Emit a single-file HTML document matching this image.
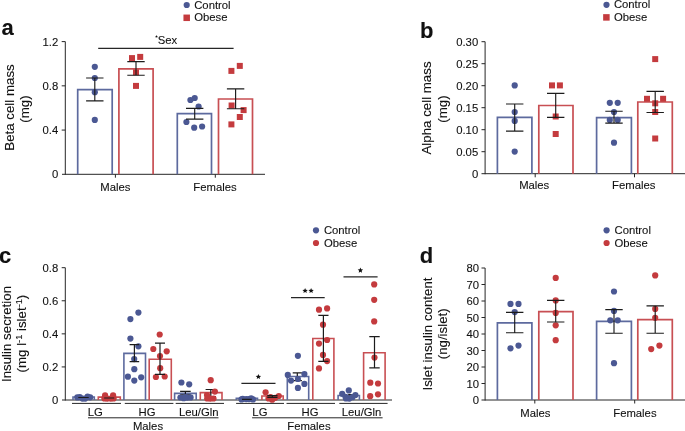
<!DOCTYPE html>
<html><head><meta charset="utf-8"><style>
html,body{margin:0;padding:0;background:#fff;}
svg{display:block;filter:blur(0.3px);}
text{font-family:"Liberation Sans", sans-serif;fill:#111;stroke:#111;stroke-width:0.1px;}
</style></head><body>
<svg width="685" height="431" viewBox="0 0 685 431">
<rect width="685" height="431" fill="#fff"/>
<text x="1.5" y="35.3" font-size="22" text-anchor="start" font-weight="bold" >a</text>
<line x1="65.3" y1="41.6" x2="65.3" y2="174.8" stroke="#262626" stroke-width="1.0"/>
<line x1="61.699999999999996" y1="41.599999999999994" x2="65.3" y2="41.599999999999994" stroke="#262626" stroke-width="1.0"/>
<text x="58.2" y="45.599999999999994" font-size="11.3" text-anchor="end" font-weight="normal" >1.2</text>
<line x1="61.699999999999996" y1="85.83333333333331" x2="65.3" y2="85.83333333333331" stroke="#262626" stroke-width="1.0"/>
<text x="58.2" y="89.83333333333331" font-size="11.3" text-anchor="end" font-weight="normal" >0.8</text>
<line x1="61.699999999999996" y1="130.06666666666666" x2="65.3" y2="130.06666666666666" stroke="#262626" stroke-width="1.0"/>
<text x="58.2" y="134.06666666666666" font-size="11.3" text-anchor="end" font-weight="normal" >0.4</text>
<text x="58.2" y="178.3" font-size="11.3" text-anchor="end" font-weight="normal" >0</text>
<line x1="62" y1="174.3" x2="265" y2="174.3" stroke="#262626" stroke-width="1.0"/>
<line x1="115.4" y1="174.3" x2="115.4" y2="177.7" stroke="#262626" stroke-width="1.0"/>
<line x1="215.3" y1="174.3" x2="215.3" y2="177.7" stroke="#262626" stroke-width="1.0"/>
<text transform="translate(13.7,107.5) rotate(-90)" x="0" y="0" font-size="13.3" text-anchor="middle">Beta cell mass</text>
<text transform="translate(29.3,109.0) rotate(-90)" x="0" y="0" font-size="13.3" text-anchor="middle">(mg)</text>
<text x="115.4" y="190.9" font-size="11.3" text-anchor="middle" font-weight="normal" >Males</text>
<text x="215.0" y="190.5" font-size="11.3" text-anchor="middle" font-weight="normal" >Females</text>
<path d="M77.7,174.3 V89.6 H112.2 V174.3" fill="none" stroke="#5d6a9e" stroke-width="1.7"/>
<path d="M118.9,174.3 V68.8 H153.1 V174.3" fill="none" stroke="#c84f53" stroke-width="1.7"/>
<path d="M177.3,174.3 V113.6 H211.5 V174.3" fill="none" stroke="#5d6a9e" stroke-width="1.7"/>
<path d="M218.5,174.3 V99.0 H252.5 V174.3" fill="none" stroke="#c84f53" stroke-width="1.7"/>
<circle cx="94.8" cy="66.8" r="3.1" fill="#4b5893"/>
<circle cx="94.8" cy="78" r="3.1" fill="#4b5893"/>
<circle cx="94.8" cy="92.2" r="3.1" fill="#4b5893"/>
<circle cx="94.8" cy="119.9" r="3.1" fill="#4b5893"/>
<rect x="129.0" y="55.1" width="6.0" height="6.0" fill="#c43b3e"/>
<rect x="137.2" y="53.9" width="6.0" height="6.0" fill="#c43b3e"/>
<rect x="133.0" y="69.3" width="6.0" height="6.0" fill="#c43b3e"/>
<rect x="133.0" y="82.9" width="6.0" height="6.0" fill="#c43b3e"/>
<circle cx="190.4" cy="100" r="3.1" fill="#4b5893"/>
<circle cx="194.7" cy="98" r="3.1" fill="#4b5893"/>
<circle cx="198.6" cy="106.5" r="3.1" fill="#4b5893"/>
<circle cx="186.4" cy="122" r="3.1" fill="#4b5893"/>
<circle cx="194.2" cy="127.7" r="3.1" fill="#4b5893"/>
<circle cx="202.1" cy="126.5" r="3.1" fill="#4b5893"/>
<rect x="228.4" y="67.9" width="6.0" height="6.0" fill="#c43b3e"/>
<rect x="236.8" y="62.900000000000006" width="6.0" height="6.0" fill="#c43b3e"/>
<rect x="228.6" y="102.5" width="6.0" height="6.0" fill="#c43b3e"/>
<rect x="240.6" y="107.1" width="6.0" height="6.0" fill="#c43b3e"/>
<rect x="236.8" y="114.0" width="6.0" height="6.0" fill="#c43b3e"/>
<rect x="228.4" y="121.4" width="6.0" height="6.0" fill="#c43b3e"/>
<path d="M86.1,78 H103.5 M94.8,78 V100.8 M86.1,100.8 H103.5" fill="none" stroke="#1c1c1c" stroke-width="1.15"/>
<path d="M127.3,61.6 H144.7 M136,61.6 V75.2 M127.3,75.2 H144.7" fill="none" stroke="#1c1c1c" stroke-width="1.15"/>
<path d="M186.0,108.3 H203.39999999999998 M194.7,108.3 V119.1 M186.0,119.1 H203.39999999999998" fill="none" stroke="#1c1c1c" stroke-width="1.15"/>
<path d="M226.9,88.8 H244.29999999999998 M235.6,88.8 V108.7 M226.9,108.7 H244.29999999999998" fill="none" stroke="#1c1c1c" stroke-width="1.15"/>
<line x1="98.2" y1="48.3" x2="233.6" y2="48.3" stroke="#262626" stroke-width="1.2"/>
<polygon points="156.50,35.10 156.91,36.03 157.93,36.14 157.17,36.82 157.38,37.81 156.50,37.30 155.62,37.81 155.83,36.82 155.07,36.14 156.09,36.03" fill="#111"/>
<text x="157.7" y="44.3" font-size="11.3" text-anchor="start" font-weight="normal" >Sex</text>
<circle cx="186.7" cy="5.0" r="3.1" fill="#4b5893"/>
<text x="194.2" y="8.6" font-size="11.3" text-anchor="start" font-weight="normal" >Control</text>
<rect x="183.45" y="14.55" width="6.5" height="6.5" fill="#c43b3e"/>
<text x="194.2" y="21.2" font-size="11.3" text-anchor="start" font-weight="normal" >Obese</text>
<text x="420.0" y="37.6" font-size="22" text-anchor="start" font-weight="bold" >b</text>
<line x1="485.1" y1="41.7" x2="485.1" y2="174.2" stroke="#262626" stroke-width="1.0"/>
<line x1="481.5" y1="41.69999999999999" x2="485.1" y2="41.69999999999999" stroke="#262626" stroke-width="1.0"/>
<text x="478.2" y="45.69999999999999" font-size="11.3" text-anchor="end" font-weight="normal" >0.30</text>
<line x1="481.5" y1="63.69999999999999" x2="485.1" y2="63.69999999999999" stroke="#262626" stroke-width="1.0"/>
<text x="478.2" y="67.69999999999999" font-size="11.3" text-anchor="end" font-weight="normal" >0.25</text>
<line x1="481.5" y1="85.69999999999997" x2="485.1" y2="85.69999999999997" stroke="#262626" stroke-width="1.0"/>
<text x="478.2" y="89.69999999999997" font-size="11.3" text-anchor="end" font-weight="normal" >0.20</text>
<line x1="481.5" y1="107.69999999999999" x2="485.1" y2="107.69999999999999" stroke="#262626" stroke-width="1.0"/>
<text x="478.2" y="111.69999999999999" font-size="11.3" text-anchor="end" font-weight="normal" >0.15</text>
<line x1="481.5" y1="129.7" x2="485.1" y2="129.7" stroke="#262626" stroke-width="1.0"/>
<text x="478.2" y="133.7" font-size="11.3" text-anchor="end" font-weight="normal" >0.10</text>
<line x1="481.5" y1="151.7" x2="485.1" y2="151.7" stroke="#262626" stroke-width="1.0"/>
<text x="478.2" y="155.7" font-size="11.3" text-anchor="end" font-weight="normal" >0.05</text>
<text x="478.2" y="177.7" font-size="11.3" text-anchor="end" font-weight="normal" >0</text>
<line x1="481.5" y1="173.7" x2="685" y2="173.7" stroke="#262626" stroke-width="1.0"/>
<line x1="535.2" y1="173.7" x2="535.2" y2="177.3" stroke="#262626" stroke-width="1.0"/>
<line x1="634.5" y1="173.7" x2="634.5" y2="177.3" stroke="#262626" stroke-width="1.0"/>
<text transform="translate(431.0,108.0) rotate(-90)" x="0" y="0" font-size="13.3" text-anchor="middle">Alpha cell mass</text>
<text transform="translate(446.5,109.0) rotate(-90)" x="0" y="0" font-size="13.3" text-anchor="middle">(mg)</text>
<text x="534.2" y="188.9" font-size="11.3" text-anchor="middle" font-weight="normal" >Males</text>
<text x="633.7" y="189.3" font-size="11.3" text-anchor="middle" font-weight="normal" >Females</text>
<path d="M497.4,173.7 V117.4 H531.9 V173.7" fill="none" stroke="#5d6a9e" stroke-width="1.7"/>
<path d="M538.8,173.7 V105.5 H573 V173.7" fill="none" stroke="#c84f53" stroke-width="1.7"/>
<path d="M596.6,173.7 V117.7 H631.4 V173.7" fill="none" stroke="#5d6a9e" stroke-width="1.7"/>
<path d="M637.8,173.7 V102.0 H672.3 V173.7" fill="none" stroke="#c84f53" stroke-width="1.7"/>
<circle cx="514.7" cy="85.4" r="3.1" fill="#4b5893"/>
<circle cx="514.7" cy="112" r="3.1" fill="#4b5893"/>
<circle cx="514.7" cy="120.9" r="3.1" fill="#4b5893"/>
<circle cx="514.7" cy="151.6" r="3.1" fill="#4b5893"/>
<rect x="549.0" y="82.4" width="6.0" height="6.0" fill="#c43b3e"/>
<rect x="556.9" y="82.4" width="6.0" height="6.0" fill="#c43b3e"/>
<rect x="552.7" y="113.5" width="6.0" height="6.0" fill="#c43b3e"/>
<rect x="552.7" y="131.0" width="6.0" height="6.0" fill="#c43b3e"/>
<circle cx="609.8" cy="102.8" r="3.1" fill="#4b5893"/>
<circle cx="617.7" cy="102.8" r="3.1" fill="#4b5893"/>
<circle cx="614" cy="112" r="3.1" fill="#4b5893"/>
<circle cx="609.8" cy="119.9" r="3.1" fill="#4b5893"/>
<circle cx="617.7" cy="119.9" r="3.1" fill="#4b5893"/>
<circle cx="614" cy="142.7" r="3.1" fill="#4b5893"/>
<rect x="652.2" y="56.1" width="6.0" height="6.0" fill="#c43b3e"/>
<rect x="644.0" y="95.8" width="6.0" height="6.0" fill="#c43b3e"/>
<rect x="660.1" y="95.8" width="6.0" height="6.0" fill="#c43b3e"/>
<rect x="652.2" y="100.3" width="6.0" height="6.0" fill="#c43b3e"/>
<rect x="652.2" y="109.0" width="6.0" height="6.0" fill="#c43b3e"/>
<rect x="652.2" y="135.5" width="6.0" height="6.0" fill="#c43b3e"/>
<path d="M506.00000000000006,104 H523.4000000000001 M514.7,104 V131.1 M506.00000000000006,131.1 H523.4000000000001" fill="none" stroke="#1c1c1c" stroke-width="1.15"/>
<path d="M547.0,93.4 H564.4000000000001 M555.7,93.4 V117.4 M547.0,117.4 H564.4000000000001" fill="none" stroke="#1c1c1c" stroke-width="1.15"/>
<path d="M605.3,111.2 H622.7 M614,111.2 V123.1 M605.3,123.1 H622.7" fill="none" stroke="#1c1c1c" stroke-width="1.15"/>
<path d="M646.5,91.4 H663.9000000000001 M655.2,91.4 V112.5 M646.5,112.5 H663.9000000000001" fill="none" stroke="#1c1c1c" stroke-width="1.15"/>
<circle cx="606.5" cy="4.8" r="3.1" fill="#4b5893"/>
<text x="613.9" y="8.4" font-size="11.3" text-anchor="start" font-weight="normal" >Control</text>
<rect x="603.15" y="14.149999999999999" width="6.5" height="6.5" fill="#c43b3e"/>
<text x="613.9" y="21.0" font-size="11.3" text-anchor="start" font-weight="normal" >Obese</text>
<text x="-1.0" y="262.8" font-size="22" text-anchor="start" font-weight="bold" >c</text>
<line x1="65.3" y1="267.7" x2="65.3" y2="400.5" stroke="#262626" stroke-width="1.0"/>
<line x1="61.699999999999996" y1="267.7" x2="65.3" y2="267.7" stroke="#262626" stroke-width="1.0"/>
<text x="58.3" y="271.7" font-size="11.3" text-anchor="end" font-weight="normal" >0.8</text>
<line x1="61.699999999999996" y1="300.775" x2="65.3" y2="300.775" stroke="#262626" stroke-width="1.0"/>
<text x="58.3" y="304.775" font-size="11.3" text-anchor="end" font-weight="normal" >0.6</text>
<line x1="61.699999999999996" y1="333.85" x2="65.3" y2="333.85" stroke="#262626" stroke-width="1.0"/>
<text x="58.3" y="337.85" font-size="11.3" text-anchor="end" font-weight="normal" >0.4</text>
<line x1="61.699999999999996" y1="366.925" x2="65.3" y2="366.925" stroke="#262626" stroke-width="1.0"/>
<text x="58.3" y="370.925" font-size="11.3" text-anchor="end" font-weight="normal" >0.2</text>
<text x="58.3" y="404.0" font-size="11.3" text-anchor="end" font-weight="normal" >0</text>
<line x1="62" y1="400.0" x2="392" y2="400.0" stroke="#262626" stroke-width="1.0"/>
<text transform="translate(11.2,334.0) rotate(-90)" x="0" y="0" font-size="13.3" text-anchor="middle">Insulin secretion</text>
<text transform="translate(26.1,333.6) rotate(-90)" x="0" y="0" font-size="13.3" text-anchor="middle">(mg l<tspan font-size="9.2" dy="-4.2">-1</tspan><tspan dy="4.2"> islet</tspan><tspan font-size="9.2" dy="-4.2">-1</tspan><tspan dy="4.2">)</tspan></text>
<line x1="72" y1="403.4" x2="121" y2="403.4" stroke="#262626" stroke-width="1.0"/>
<line x1="124.8" y1="403.4" x2="173.4" y2="403.4" stroke="#262626" stroke-width="1.0"/>
<line x1="175.7" y1="403.4" x2="224" y2="403.4" stroke="#262626" stroke-width="1.0"/>
<line x1="236.1" y1="403.4" x2="284" y2="403.4" stroke="#262626" stroke-width="1.0"/>
<line x1="286.5" y1="403.4" x2="335" y2="403.4" stroke="#262626" stroke-width="1.0"/>
<line x1="339.3" y1="403.4" x2="387.6" y2="403.4" stroke="#262626" stroke-width="1.0"/>
<text x="95.3" y="415.5" font-size="11.3" text-anchor="middle" font-weight="normal" >LG</text>
<text x="147.1" y="415.5" font-size="11.3" text-anchor="middle" font-weight="normal" >HG</text>
<text x="198.8" y="415.5" font-size="11.3" text-anchor="middle" font-weight="normal" >Leu/Gln</text>
<text x="259.9" y="415.5" font-size="11.3" text-anchor="middle" font-weight="normal" >LG</text>
<text x="310.1" y="415.5" font-size="11.3" text-anchor="middle" font-weight="normal" >HG</text>
<text x="361.6" y="415.5" font-size="11.3" text-anchor="middle" font-weight="normal" >Leu/Gln</text>
<line x1="88" y1="417.8" x2="218.5" y2="417.8" stroke="#262626" stroke-width="1.0"/>
<line x1="252.1" y1="417.8" x2="382.6" y2="417.8" stroke="#262626" stroke-width="1.0"/>
<text x="148.0" y="430.2" font-size="11.3" text-anchor="middle" font-weight="normal" >Males</text>
<text x="308.9" y="430.4" font-size="11.3" text-anchor="middle" font-weight="normal" >Females</text>
<path d="M73.0,400.0 V397.0 H94.3 V400.0" fill="none" stroke="#5d6a9e" stroke-width="1.6"/>
<path d="M98.3,400.0 V397.1 H120.3 V400.0" fill="none" stroke="#c84f53" stroke-width="1.6"/>
<path d="M123.9,400.0 V353.4 H145.5 V400.0" fill="none" stroke="#5d6a9e" stroke-width="1.6"/>
<path d="M149.2,400.0 V359.2 H171.3 V400.0" fill="none" stroke="#c84f53" stroke-width="1.6"/>
<path d="M174.6,400.0 V393.4 H196.2 V400.0" fill="none" stroke="#5d6a9e" stroke-width="1.6"/>
<path d="M200.3,400.0 V392.6 H222 V400.0" fill="none" stroke="#c84f53" stroke-width="1.6"/>
<path d="M236.3,400.0 V398.2 H257.5 V400.0" fill="none" stroke="#5d6a9e" stroke-width="1.6"/>
<path d="M261.9,400.0 V396 H283.2 V400.0" fill="none" stroke="#c84f53" stroke-width="1.6"/>
<path d="M287.3,400.0 V376.5 H308.7 V400.0" fill="none" stroke="#5d6a9e" stroke-width="1.6"/>
<path d="M312.8,400.0 V338.5 H333.9 V400.0" fill="none" stroke="#c84f53" stroke-width="1.6"/>
<path d="M338.1,400.0 V395.5 H359.4 V400.0" fill="none" stroke="#5d6a9e" stroke-width="1.6"/>
<path d="M363.6,400.0 V352.7 H385.1 V400.0" fill="none" stroke="#c84f53" stroke-width="1.6"/>
<path d="M180.1,391.3 H190.70000000000002 M185.4,391.3 V394.8 M180.1,394.8 H190.70000000000002" fill="none" stroke="#1c1c1c" stroke-width="1.2"/>
<path d="M205.60000000000002,389.5 H216.0 M210.8,389.5 V396.7 M205.60000000000002,396.7 H216.0" fill="none" stroke="#1c1c1c" stroke-width="1.2"/>
<path d="M292.7,372.8 H301.90000000000003 M297.3,372.8 V380.7 M292.7,380.7 H301.90000000000003" fill="none" stroke="#1c1c1c" stroke-width="1.2"/>
<path d="M348.2,394.5 H352.40000000000003 M350.3,394.5 V396.3 M348.2,396.3 H352.40000000000003" fill="none" stroke="#1c1c1c" stroke-width="1.2"/>
<circle cx="77.3" cy="397.4" r="3.1" fill="#4b5893"/>
<circle cx="79.8" cy="397.1" r="3.1" fill="#4b5893"/>
<circle cx="87.6" cy="396.5" r="3.1" fill="#4b5893"/>
<circle cx="90.2" cy="397.3" r="3.1" fill="#4b5893"/>
<circle cx="82.5" cy="398.6" r="3.1" fill="#4b5893"/>
<circle cx="85.2" cy="398.6" r="3.1" fill="#4b5893"/>
<circle cx="138.4" cy="312.6" r="3.1" fill="#4b5893"/>
<circle cx="130.4" cy="319.1" r="3.1" fill="#4b5893"/>
<circle cx="130.4" cy="338.6" r="3.1" fill="#4b5893"/>
<circle cx="138.4" cy="346.3" r="3.1" fill="#4b5893"/>
<circle cx="134.2" cy="359.1" r="3.1" fill="#4b5893"/>
<circle cx="134.3" cy="369.2" r="3.1" fill="#4b5893"/>
<circle cx="127.9" cy="376.7" r="3.1" fill="#4b5893"/>
<circle cx="141.2" cy="377.3" r="3.1" fill="#4b5893"/>
<circle cx="134.3" cy="380.6" r="3.1" fill="#4b5893"/>
<circle cx="181.4" cy="382.5" r="3.1" fill="#4b5893"/>
<circle cx="189.2" cy="384.3" r="3.1" fill="#4b5893"/>
<circle cx="180.4" cy="397.5" r="3.1" fill="#4b5893"/>
<circle cx="183.7" cy="398.2" r="3.1" fill="#4b5893"/>
<circle cx="187.2" cy="397.6" r="3.1" fill="#4b5893"/>
<circle cx="190.6" cy="397.4" r="3.1" fill="#4b5893"/>
<circle cx="185.3" cy="397.0" r="3.1" fill="#4b5893"/>
<circle cx="242.7" cy="398.9" r="3.1" fill="#4b5893"/>
<circle cx="251.1" cy="398.3" r="3.1" fill="#4b5893"/>
<circle cx="241.5" cy="399.4" r="3.1" fill="#4b5893"/>
<circle cx="253.0" cy="399.4" r="3.1" fill="#4b5893"/>
<circle cx="246.2" cy="399.1" r="3.1" fill="#4b5893"/>
<circle cx="249.0" cy="399.1" r="3.1" fill="#4b5893"/>
<circle cx="297.9" cy="355.8" r="3.1" fill="#4b5893"/>
<circle cx="287.8" cy="374.9" r="3.1" fill="#4b5893"/>
<circle cx="304.4" cy="374.1" r="3.1" fill="#4b5893"/>
<circle cx="291" cy="380.6" r="3.1" fill="#4b5893"/>
<circle cx="297.9" cy="379" r="3.1" fill="#4b5893"/>
<circle cx="304.4" cy="383.9" r="3.1" fill="#4b5893"/>
<circle cx="297.9" cy="387.9" r="3.1" fill="#4b5893"/>
<circle cx="348.8" cy="390.4" r="3.1" fill="#4b5893"/>
<circle cx="342.2" cy="393.8" r="3.1" fill="#4b5893"/>
<circle cx="355.4" cy="395.0" r="3.1" fill="#4b5893"/>
<circle cx="349.3" cy="398.6" r="3.1" fill="#4b5893"/>
<circle cx="345.5" cy="396.8" r="3.1" fill="#4b5893"/>
<circle cx="352.5" cy="397.2" r="3.1" fill="#4b5893"/>
<circle cx="346.0" cy="398.4" r="3.1" fill="#4b5893"/>
<circle cx="105.1" cy="395.3" r="3.1" fill="#c43b3e"/>
<circle cx="113.1" cy="395.3" r="3.1" fill="#c43b3e"/>
<circle cx="104.4" cy="398.4" r="3.1" fill="#c43b3e"/>
<circle cx="113.6" cy="398.4" r="3.1" fill="#c43b3e"/>
<circle cx="107.2" cy="398.6" r="3.1" fill="#c43b3e"/>
<circle cx="110.8" cy="398.6" r="3.1" fill="#c43b3e"/>
<circle cx="159.7" cy="334.5" r="3.1" fill="#c43b3e"/>
<circle cx="153.3" cy="349" r="3.1" fill="#c43b3e"/>
<circle cx="166.7" cy="351.3" r="3.1" fill="#c43b3e"/>
<circle cx="160" cy="356" r="3.1" fill="#c43b3e"/>
<circle cx="160.2" cy="368.2" r="3.1" fill="#c43b3e"/>
<circle cx="155.9" cy="377" r="3.1" fill="#c43b3e"/>
<circle cx="164.7" cy="376.5" r="3.1" fill="#c43b3e"/>
<circle cx="210.7" cy="380.2" r="3.1" fill="#c43b3e"/>
<circle cx="214.9" cy="391.6" r="3.1" fill="#c43b3e"/>
<circle cx="207.0" cy="395.0" r="3.1" fill="#c43b3e"/>
<circle cx="207.2" cy="398.5" r="3.1" fill="#c43b3e"/>
<circle cx="213.5" cy="398.5" r="3.1" fill="#c43b3e"/>
<circle cx="210.3" cy="398.6" r="3.1" fill="#c43b3e"/>
<circle cx="265.6" cy="392.3" r="3.1" fill="#c43b3e"/>
<circle cx="278.8" cy="396.0" r="3.1" fill="#c43b3e"/>
<circle cx="270.5" cy="397.0" r="3.1" fill="#c43b3e"/>
<circle cx="272.2" cy="399.7" r="3.1" fill="#c43b3e"/>
<circle cx="275.2" cy="397.8" r="3.1" fill="#c43b3e"/>
<circle cx="268.5" cy="398.4" r="3.1" fill="#c43b3e"/>
<circle cx="319" cy="309.7" r="3.1" fill="#c43b3e"/>
<circle cx="327.1" cy="308.4" r="3.1" fill="#c43b3e"/>
<circle cx="323" cy="324.7" r="3.1" fill="#c43b3e"/>
<circle cx="319" cy="343.6" r="3.1" fill="#c43b3e"/>
<circle cx="327.1" cy="340" r="3.1" fill="#c43b3e"/>
<circle cx="323" cy="354.9" r="3.1" fill="#c43b3e"/>
<circle cx="327.1" cy="361.1" r="3.1" fill="#c43b3e"/>
<circle cx="319" cy="368.4" r="3.1" fill="#c43b3e"/>
<circle cx="374.2" cy="284.4" r="3.1" fill="#c43b3e"/>
<circle cx="374.2" cy="299.8" r="3.1" fill="#c43b3e"/>
<circle cx="374.2" cy="321.4" r="3.1" fill="#c43b3e"/>
<circle cx="374.5" cy="357.6" r="3.1" fill="#c43b3e"/>
<circle cx="370.3" cy="382.7" r="3.1" fill="#c43b3e"/>
<circle cx="378" cy="383.5" r="3.1" fill="#c43b3e"/>
<circle cx="370.2" cy="396.2" r="3.1" fill="#c43b3e"/>
<circle cx="378" cy="394.3" r="3.1" fill="#c43b3e"/>
<path d="M78.3,397.5 H88.7 M83.5,397.5 V397.5 M78.3,397.5 H88.7" fill="none" stroke="#1c1c1c" stroke-width="1.2"/>
<path d="M104.2,398 H114.2 M109.2,398 V398 M104.2,398 H114.2" fill="none" stroke="#1c1c1c" stroke-width="1.2"/>
<path d="M129.6,344.6 H139.20000000000002 M134.4,344.6 V361.6 M129.6,361.6 H139.20000000000002" fill="none" stroke="#1c1c1c" stroke-width="1.2"/>
<path d="M155.0,343.2 H165.0 M160,343.2 V374.4 M155.0,374.4 H165.0" fill="none" stroke="#1c1c1c" stroke-width="1.2"/>
<path d="M242.0,399.3 H251.8 M246.9,399.3 V399.3 M242.0,399.3 H251.8" fill="none" stroke="#1c1c1c" stroke-width="1.2"/>
<path d="M267.29999999999995,395.6 H277.5 M272.4,395.6 V397.3 M267.29999999999995,397.3 H277.5" fill="none" stroke="#1c1c1c" stroke-width="1.2"/>
<path d="M318.29999999999995,315.4 H328.5 M323.4,315.4 V361.4 M318.29999999999995,361.4 H328.5" fill="none" stroke="#1c1c1c" stroke-width="1.2"/>
<path d="M369.3,336.6 H379.7 M374.5,336.6 V367.9 M369.3,367.9 H379.7" fill="none" stroke="#1c1c1c" stroke-width="1.2"/>
<line x1="241.4" y1="383.4" x2="275.5" y2="383.4" stroke="#262626" stroke-width="1.2"/>
<polygon points="258.40,373.95 259.16,375.75 261.11,375.92 259.64,377.20 260.08,379.11 258.40,378.10 256.72,379.11 257.16,377.20 255.69,375.92 257.64,375.75" fill="#111"/>
<line x1="291" y1="297.6" x2="324.7" y2="297.6" stroke="#262626" stroke-width="1.2"/>
<polygon points="305.10,287.95 305.86,289.75 307.81,289.92 306.34,291.20 306.78,293.11 305.10,292.10 303.42,293.11 303.86,291.20 302.39,289.92 304.34,289.75" fill="#111"/>
<polygon points="311.10,287.95 311.86,289.75 313.81,289.92 312.34,291.20 312.78,293.11 311.10,292.10 309.42,293.11 309.86,291.20 308.39,289.92 310.34,289.75" fill="#111"/>
<line x1="343.5" y1="276.8" x2="377.6" y2="276.8" stroke="#262626" stroke-width="1.2"/>
<polygon points="360.40,267.55 361.16,269.35 363.11,269.52 361.64,270.80 362.08,272.71 360.40,271.70 358.72,272.71 359.16,270.80 357.69,269.52 359.64,269.35" fill="#111"/>
<circle cx="316" cy="230.3" r="3.1" fill="#4b5893"/>
<text x="323.9" y="234.0" font-size="11.3" text-anchor="start" font-weight="normal" >Control</text>
<circle cx="316" cy="243.0" r="3.1" fill="#c43b3e"/>
<text x="323.9" y="246.8" font-size="11.3" text-anchor="start" font-weight="normal" >Obese</text>
<text x="419.8" y="263.0" font-size="22" text-anchor="start" font-weight="bold" >d</text>
<line x1="485.1" y1="268.0" x2="485.1" y2="400.5" stroke="#262626" stroke-width="1.0"/>
<line x1="481.5" y1="268.0" x2="485.1" y2="268.0" stroke="#262626" stroke-width="1.0"/>
<text x="479.0" y="272.0" font-size="11.3" text-anchor="end" font-weight="normal" >80</text>
<line x1="481.5" y1="284.5" x2="485.1" y2="284.5" stroke="#262626" stroke-width="1.0"/>
<text x="479.0" y="288.5" font-size="11.3" text-anchor="end" font-weight="normal" >70</text>
<line x1="481.5" y1="301.0" x2="485.1" y2="301.0" stroke="#262626" stroke-width="1.0"/>
<text x="479.0" y="305.0" font-size="11.3" text-anchor="end" font-weight="normal" >60</text>
<line x1="481.5" y1="317.5" x2="485.1" y2="317.5" stroke="#262626" stroke-width="1.0"/>
<text x="479.0" y="321.5" font-size="11.3" text-anchor="end" font-weight="normal" >50</text>
<line x1="481.5" y1="334.0" x2="485.1" y2="334.0" stroke="#262626" stroke-width="1.0"/>
<text x="479.0" y="338.0" font-size="11.3" text-anchor="end" font-weight="normal" >40</text>
<line x1="481.5" y1="350.5" x2="485.1" y2="350.5" stroke="#262626" stroke-width="1.0"/>
<text x="479.0" y="354.5" font-size="11.3" text-anchor="end" font-weight="normal" >30</text>
<line x1="481.5" y1="367.0" x2="485.1" y2="367.0" stroke="#262626" stroke-width="1.0"/>
<text x="479.0" y="371.0" font-size="11.3" text-anchor="end" font-weight="normal" >20</text>
<line x1="481.5" y1="383.5" x2="485.1" y2="383.5" stroke="#262626" stroke-width="1.0"/>
<text x="479.0" y="387.5" font-size="11.3" text-anchor="end" font-weight="normal" >10</text>
<text x="479.0" y="404.0" font-size="11.3" text-anchor="end" font-weight="normal" >0</text>
<line x1="481.5" y1="400.0" x2="685" y2="400.0" stroke="#262626" stroke-width="1.0"/>
<line x1="534.8" y1="400.0" x2="534.8" y2="403.5" stroke="#262626" stroke-width="1.0"/>
<line x1="634.7" y1="400.0" x2="634.7" y2="403.5" stroke="#262626" stroke-width="1.0"/>
<text transform="translate(431.6,334.0) rotate(-90)" x="0" y="0" font-size="13.3" text-anchor="middle">Islet insulin content</text>
<text transform="translate(446.5,333.8) rotate(-90)" x="0" y="0" font-size="13.3" text-anchor="middle">(ng/islet)</text>
<text x="535.3" y="416.8" font-size="11.3" text-anchor="middle" font-weight="normal" >Males</text>
<text x="634.9" y="416.8" font-size="11.3" text-anchor="middle" font-weight="normal" >Females</text>
<path d="M497.4,400.0 V322.8 H531.9 V400.0" fill="none" stroke="#5d6a9e" stroke-width="1.7"/>
<path d="M538.8,400.0 V311.6 H573 V400.0" fill="none" stroke="#c84f53" stroke-width="1.7"/>
<path d="M596.6,400.0 V321.3 H631.4 V400.0" fill="none" stroke="#5d6a9e" stroke-width="1.7"/>
<path d="M637.8,400.0 V319.6 H672.3 V400.0" fill="none" stroke="#c84f53" stroke-width="1.7"/>
<circle cx="510.5" cy="303.9" r="3.1" fill="#4b5893"/>
<circle cx="518.5" cy="303.9" r="3.1" fill="#4b5893"/>
<circle cx="514.7" cy="312.1" r="3.1" fill="#4b5893"/>
<circle cx="510.5" cy="348.3" r="3.1" fill="#4b5893"/>
<circle cx="518.5" cy="345.6" r="3.1" fill="#4b5893"/>
<circle cx="555.7" cy="277.9" r="3.1" fill="#c43b3e"/>
<circle cx="555.7" cy="300.4" r="3.1" fill="#c43b3e"/>
<circle cx="555.7" cy="312.9" r="3.1" fill="#c43b3e"/>
<circle cx="555.7" cy="325.3" r="3.1" fill="#c43b3e"/>
<circle cx="555.7" cy="340.2" r="3.1" fill="#c43b3e"/>
<circle cx="614" cy="291.5" r="3.1" fill="#4b5893"/>
<circle cx="614" cy="310.9" r="3.1" fill="#4b5893"/>
<circle cx="610.3" cy="320.3" r="3.1" fill="#4b5893"/>
<circle cx="617.7" cy="320.3" r="3.1" fill="#4b5893"/>
<circle cx="614" cy="363.2" r="3.1" fill="#4b5893"/>
<circle cx="655.2" cy="275.4" r="3.1" fill="#c43b3e"/>
<circle cx="655.2" cy="308.9" r="3.1" fill="#c43b3e"/>
<circle cx="655.2" cy="317.8" r="3.1" fill="#c43b3e"/>
<circle cx="651.2" cy="349.1" r="3.1" fill="#c43b3e"/>
<circle cx="659.4" cy="345.6" r="3.1" fill="#c43b3e"/>
<path d="M506.00000000000006,312.4 H523.4000000000001 M514.7,312.4 V332.7 M506.00000000000006,332.7 H523.4000000000001" fill="none" stroke="#1c1c1c" stroke-width="1.15"/>
<path d="M547.0,300.4 H564.4000000000001 M555.7,300.4 V322 M547.0,322 H564.4000000000001" fill="none" stroke="#1c1c1c" stroke-width="1.15"/>
<path d="M605.3,309.6 H622.7 M614,309.6 V333.2 M605.3,333.2 H622.7" fill="none" stroke="#1c1c1c" stroke-width="1.15"/>
<path d="M646.5,305.9 H663.9000000000001 M655.2,305.9 V333.2 M646.5,333.2 H663.9000000000001" fill="none" stroke="#1c1c1c" stroke-width="1.15"/>
<circle cx="606.6" cy="230.3" r="3.1" fill="#4b5893"/>
<text x="614.5" y="234.0" font-size="11.3" text-anchor="start" font-weight="normal" >Control</text>
<circle cx="606.6" cy="243.0" r="3.1" fill="#c43b3e"/>
<text x="614.5" y="246.8" font-size="11.3" text-anchor="start" font-weight="normal" >Obese</text>
</svg>
</body></html>
